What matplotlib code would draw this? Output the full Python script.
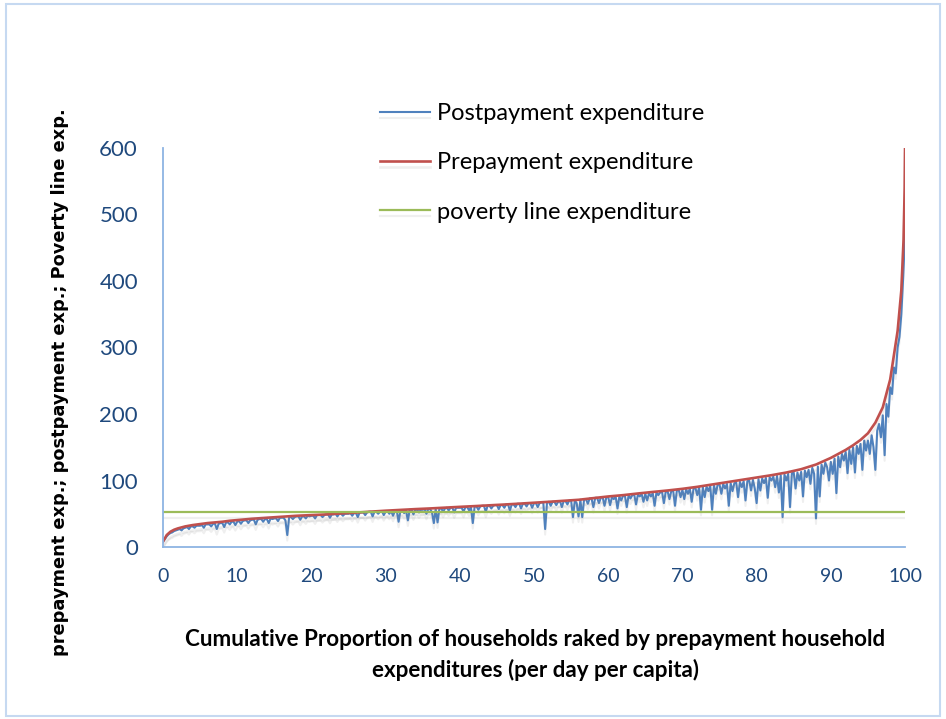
import numpy as np
import matplotlib
matplotlib.use("Agg")
import matplotlib.pyplot as plt
from matplotlib.patches import Rectangle
import matplotlib.patheffects as pe

# ---------------- data ----------------
pre_x = [0, 0.5, 1, 1.5, 2, 3, 4, 5, 6, 7, 8, 9, 10, 12, 14, 16, 18, 20, 22, 24,
         26, 28, 30, 32, 34, 36, 38, 40, 42, 44, 46, 48, 50, 52, 54, 56, 58, 60,
         62, 64, 66, 68, 70, 72, 74, 76, 78, 80, 82, 84, 86, 88, 90, 91, 92, 93,
         94, 95, 96, 97, 98, 99, 99.5, 99.8, 99.95, 100]
pre_y = [8, 18, 23, 26, 28, 31, 33, 34.5, 36, 37, 38, 39.5, 40.5, 42.5, 44, 45.5, 47, 48, 49, 50.5,
         51.7, 53.2, 54.6, 55.8, 57, 58, 59.2, 60.4, 61.5, 62.7, 63.9, 65.2, 66.6, 68, 69.5, 71, 73.5, 76,
         78, 80.5, 82.8, 85, 87.5, 90.5, 94, 97.5, 101, 104.5, 108, 112, 117, 124, 134, 140, 146, 153,
         161, 171, 187, 210, 252, 325, 386, 462, 540, 600]

post_x = np.linspace(0, 100, 401)
post_y = [
    8, 12, 16, 19, 21, 22, 24, 25, 26, 27, 25, 28, 29, 30, 27, 31, 31, 29, 32, 32,
    32, 33, 29, 34, 34, 34, 31, 35, 35, 27, 35, 36, 36, 30, 37, 37, 34, 38, 38, 33,
    38, 39, 35, 39, 40, 40, 36, 40, 41, 41, 34, 41, 42, 42, 38, 42, 42, 36, 43, 42,
    43, 43, 39, 44, 44, 44, 40, 18, 45, 45, 42, 45, 46, 46, 41, 46, 46, 43, 47, 46,
    47, 47, 43, 48, 48, 48, 45, 48, 49, 49, 44, 49, 49, 50, 46, 50, 50, 47, 50, 50,
    50, 51, 47, 51, 51, 45, 52, 52, 52, 48, 52, 53, 53, 46, 53, 53, 50, 53, 54, 48,
    53, 54, 50, 54, 47, 54, 55, 38, 55, 55, 51, 55, 40, 56, 56, 49, 56, 56, 52, 56,
    56, 57, 50, 57, 57, 52, 36, 57, 37, 58, 58, 53, 58, 59, 55, 59, 59, 52, 59, 59,
    59, 59, 53, 60, 60, 55, 60, 36, 61, 61, 56, 61, 62, 62, 53, 62, 62, 58, 62, 63,
    63, 57, 63, 63, 59, 64, 64, 55, 64, 64, 60, 65, 65, 58, 65, 65, 61, 66, 66, 59,
    66, 66, 60, 66, 67, 67, 27, 67, 68, 62, 68, 68, 63, 68, 69, 60, 69, 69, 64, 70,
    70, 45, 70, 66, 46, 71, 45, 72, 72, 65, 73, 73, 60, 74, 74, 66, 74, 75, 62, 75,
    75, 63, 75, 72, 76, 58, 76, 70, 77, 77, 60, 78, 73, 78, 79, 64, 79, 76, 80, 68,
    80, 70, 81, 76, 81, 62, 82, 78, 82, 83, 66, 83, 84, 72, 84, 85, 62, 85, 86, 75,
    86, 72, 87, 80, 88, 68, 88, 89, 78, 90, 56, 90, 75, 91, 84, 92, 56, 93, 80, 94,
    94, 80, 95, 88, 95, 62, 96, 84, 96, 97, 75, 98, 90, 99, 70, 99, 100, 85, 101, 88,
    66, 102, 85, 103, 96, 104, 74, 105, 100, 106, 90, 107, 82, 108, 45, 109, 100, 110, 60, 111,
    112, 88, 112, 100, 113, 76, 115, 105, 116, 95, 119, 110, 43, 121, 76, 124, 110, 127, 120, 100,
    128, 110, 133, 81, 136, 120, 140, 130, 143, 111, 146, 125, 150, 112, 152, 140, 155, 116, 160, 145,
    160, 140, 168, 150, 116, 175, 185, 165, 198, 138, 215, 196, 240, 230, 270, 261, 300, 316, 350, 406,
    470]

poverty_x = [0, 100]
poverty_y = [52, 52]

y_ticks = [0, 100, 200, 300, 400, 500, 600]
x_ticks = [0, 10, 20, 30, 40, 50, 60, 70, 80, 90, 100]

series_labels = ["Postpayment expenditure", "Prepayment expenditure", "poverty line expenditure"]
x_label = "Cumulative Proportion of households raked by prepayment household\nexpenditures (per day per capita)"
y_label = "prepayment exp.; postpayment exp.; Poverty line exp."

# ---------------- styling ----------------
BLUE = "#4F81BD"
RED = "#C0504D"
GREEN = "#9BBB59"
AXIS = "#8EB4E3"
TICK = "#1F497D"

fig = plt.figure(figsize=(9.46, 7.19), dpi=100)
fig.patches.append(Rectangle((0.006, 0.004), 0.988, 0.99, transform=fig.transFigure,
                             fill=False, edgecolor="#C6D9F1", linewidth=1.5))

ax = fig.add_axes([0.1723, 0.2392, 0.7844, 0.555])

shadow = [pe.SimpleLineShadow(offset=(0, -4), shadow_color="gray", alpha=0.12), pe.Normal()]
l1, = ax.plot(post_x, post_y, color=BLUE, linewidth=1.5, label=series_labels[0],
              path_effects=shadow)
l2, = ax.plot(pre_x, pre_y, color=RED, linewidth=1.9, label=series_labels[1],
              path_effects=shadow)
l3, = ax.plot(poverty_x, poverty_y, color=GREEN, linewidth=1.6, label=series_labels[2],
              path_effects=shadow)

ax.set_xlim(0, 100)
ax.set_ylim(0, 600)
ax.set_xticks(x_ticks)
ax.set_yticks(y_ticks)
ax.tick_params(length=0)
ax.tick_params(axis="y", pad=18, labelsize=16, labelcolor=TICK)
ax.tick_params(axis="x", pad=15, labelsize=14, labelcolor=TICK)
for lab in ax.get_xticklabels() + ax.get_yticklabels():
    lab.set_family("Lato")
for s in ["top", "right"]:
    ax.spines[s].set_visible(False)
for s in ["left", "bottom"]:
    ax.spines[s].set_color(AXIS)
    ax.spines[s].set_linewidth(1.3)

leg = ax.legend(handles=[l1, l2, l3], loc="upper left", bbox_to_anchor=(0.264, 1.165),
                frameon=False, prop={"family": "Lato", "size": 17},
                handlelength=2.1, handletextpad=0.3, labelspacing=1.19)

fig.text(0.566, 0.089, x_label, ha="center", va="center", fontsize=16.1,
         fontweight="bold", family="Lato", linespacing=1.5)
fig.text(0.063, 0.469, y_label, ha="center", va="center", rotation=90, fontsize=12.8,
         fontweight="bold", family="DejaVu Sans")

fig.savefig("out.png", dpi=100)
